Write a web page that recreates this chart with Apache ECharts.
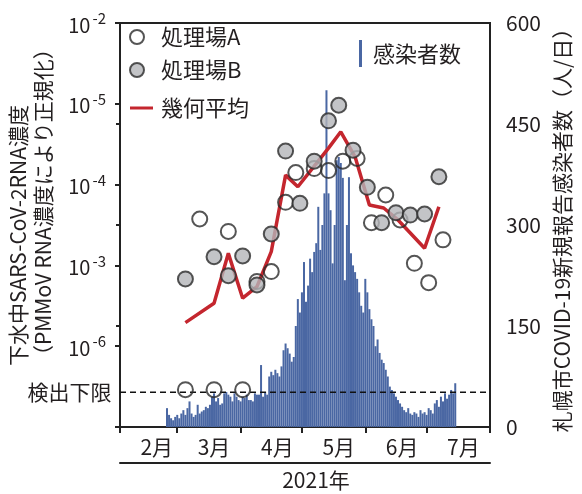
<!DOCTYPE html>
<html>
<head>
<meta charset="utf-8">
<script src="https://cdn.jsdelivr.net/npm/echarts@6/dist/echarts.min.js"></script>
<style>
  html, body { margin: 0; padding: 0; background: #fff; }
  #chart { width: 582px; height: 494px; }
</style>
</head>
<body>
<div id="chart"></div>
<script>
const FONT = '"Noto Sans CJK JP", "Noto Sans", sans-serif';
const INK = '#231f20';

// Daily new COVID-19 cases in Sapporo, one value per day from CASES_START
const CASES_START = '2021-02-24';
const cases = [
  28, 18, 13, 10, 15,
  18, 13, 20, 25, 18, 28, 38, 20, 15, 18, 33, 20, 23, 25, 30, 28, 33, 45, 50, 38, 43, 33, 35, 50, 52, 48, 45, 38, 50, 45, 40,
  38, 45, 43, 48, 40, 40, 38, 50, 48, 48, 92, 45, 52, 48, 75, 82, 77, 85, 80, 75, 90, 114, 124, 117, 109, 97, 104, 150, 190, 170,
  200, 245, 186, 210, 250, 230, 260, 273, 327, 263, 300, 347, 500, 347, 322, 243, 300, 396, 401, 392, 370, 218, 300, 371, 258, 240, 230, 220, 200, 180, 170,
  220, 200, 175, 160, 150, 120, 130, 110, 100, 95, 85, 75, 60, 55, 50, 45, 40, 35, 30, 25, 22, 28, 20, 18, 22, 20, 15, 25, 20, 22,
  18, 28, 25, 20, 35, 40, 30, 45, 38, 50, 42, 48, 55, 50, 65
];

// Wastewater SARS-CoV-2 RNA (normalised by PMMoV RNA)
const plantADates = ['2021-03-05', '2021-03-12', '2021-03-19', '2021-03-26', '2021-04-02', '2021-04-09', '2021-04-16',
  '2021-04-23', '2021-04-28', '2021-05-07', '2021-05-14', '2021-05-21', '2021-05-28', '2021-06-04', '2021-06-11',
  '2021-06-18', '2021-06-25', '2021-07-02', '2021-07-09'];
const plantAValues = [2.9e-7, 3.75e-5, 2.9e-7, 2.63e-5, 2.9e-7, 6.34e-6, 8.38e-6,
  6.03e-5, 1.41e-4, 1.58e-4, 1.49e-4, 1.95e-4, 2.11e-4, 3.38e-5, 7.43e-5,
  3.65e-5, 1.06e-5, 6.12e-6, 2.07e-5];

const plantBDates = ['2021-03-05', '2021-03-19', '2021-03-26', '2021-04-02', '2021-04-09', '2021-04-16', '2021-04-23',
  '2021-04-30', '2021-05-07', '2021-05-14', '2021-05-19', '2021-05-26', '2021-06-02', '2021-06-09', '2021-06-16',
  '2021-06-23', '2021-06-30', '2021-07-07'];
const plantBValues = [6.8e-6, 1.28e-5, 7.47e-6, 1.31e-5, 5.73e-6, 2.45e-5, 2.6e-4,
  5.86e-5, 1.95e-4, 6.15e-4, 9.6e-4, 2.67e-4, 9.25e-5, 3.38e-5, 4.49e-5,
  4.2e-5, 4.33e-5, 1.25e-4];

const geoMeanDates = ['2021-03-05', '2021-03-19', '2021-03-26', '2021-04-02', '2021-04-09', '2021-04-16', '2021-04-23',
  '2021-04-29', '2021-05-07', '2021-05-14', '2021-05-20', '2021-05-27', '2021-06-03', '2021-06-10', '2021-06-17',
  '2021-06-23', '2021-06-30', '2021-07-07'];
const geoMeanValues = [1.96e-6, 3.4e-6, 1.41e-5, 3.93e-6, 5.47e-6, 1.48e-5, 1.31e-4,
  9.4e-5, 1.69e-4, 2.83e-4, 4.5e-4, 2.21e-4, 5.59e-5, 5.13e-5, 3.65e-5,
  2.52e-5, 1.63e-5, 5.32e-5];

// Detection limit of the assay
const detectionLimit = 2.7e-7;
const detectionLimitLabel = '検出下限';

// Left axis tick labels, top to bottom (exponents printed as superscripts)
const leftTickExponents = ['-2', '-5', '-4', '-3', '-6'];
const monthLabels = ['2月', '3月', '4月', '5月', '6月', '7月'];
const yearLabel = '2021年';
const leftTitle = '下水中SARS-CoV-2RNA濃度\n（PMMoV RNA濃度により正規化）';
const rightTitle = '札幌市COVID-19新規報告感染者数（人/日）';

// The x axis counts days from the first of February 2021
const LABEL_OFFSET_DAYS = 18;

function dayIndex(dateStr) {
  const [y, m, d] = dateStr.split('-').map(Number);
  return Math.round((Date.UTC(y, m - 1, d) - Date.UTC(2021, 1, 1)) / 86400000);
}

const monthStarts = [];
for (let m = 1; m <= 7; m++) {
  monthStarts.push(Math.round((Date.UTC(2021, m, 1) - Date.UTC(2021, 1, 1)) / 86400000));
}
const monthLabelPos = monthStarts.slice(0, 6).map(d => d + LABEL_OFFSET_DAYS);

const caseStart = dayIndex(CASES_START);
const caseData = cases.map((v, i) => [caseStart + i, v]);
const zip = (ds, vs) => ds.map((d, i) => [dayIndex(d), vs[i]]);

const xMin = monthStarts[0];
const xMax = monthStarts[6];

const chart = echarts.init(document.getElementById('chart'), null, { renderer: 'canvas' });

chart.setOption({
  backgroundColor: '#fff',
  animation: false,
  textStyle: { fontFamily: FONT, color: INK },
  grid: {
    left: 120, right: 92, top: 23, bottom: 67,
    outerBoundsMode: 'none', containLabel: false,
    show: true, borderColor: '#222', borderWidth: 2, backgroundColor: 'transparent'
  },
  graphic: [
    {
      // two-line title of the concentration axis, reading bottom to top
      type: 'text', x: 31, y: 366, rotation: Math.PI / 2,
      style: {
        text: leftTitle, fill: INK, font: '21px ' + FONT,
        align: 'left', verticalAlign: 'middle', lineHeight: 25
      }
    }
  ],
  legend: [
    {
      data: ['処理場A', '処理場B'],
      orient: 'vertical', left: 129, top: 26, padding: 0,
      itemWidth: 14, itemHeight: 14, itemGap: 11,
      textStyle: { fontFamily: FONT, fontSize: 22, color: INK, padding: [0, 0, 0, 12] }
    },
    {
      data: [{ name: '幾何平均', icon: 'path://M0,0 L23,0 L23,3 L0,3 Z' }],
      left: 130, top: 97, padding: 0,
      itemWidth: 23, itemHeight: 14,
      textStyle: { fontFamily: FONT, fontSize: 22, color: INK, padding: [0, 0, 0, 3] }
    },
    {
      data: [{ name: '感染者数', icon: 'rect' }],
      left: 359, top: 40, padding: 0,
      itemWidth: 3, itemHeight: 27,
      textStyle: { fontFamily: FONT, fontSize: 22, color: INK, padding: [0, 0, 0, 6] }
    }
  ],
  xAxis: [
    {
      type: 'value', min: xMin, max: xMax,
      axisLine: { lineStyle: { color: '#222', width: 2 } },
      axisTick: { show: true, customValues: monthStarts, length: 6, lineStyle: { color: '#222', width: 2 } },
      axisLabel: {
        customValues: monthLabelPos,
        formatter: v => monthLabels[monthLabelPos.indexOf(v)] || '',
        align: 'center',
        fontFamily: FONT, fontSize: 21, color: INK, margin: 10
      },
      splitLine: { show: false }
    },
    {
      type: 'value', min: 0, max: 1,
      position: 'bottom', offset: 36,
      axisLine: { show: true, onZero: false, lineStyle: { color: '#222', width: 2 } },
      axisTick: { show: false }, axisLabel: { show: false }, splitLine: { show: false },
      name: yearLabel, nameLocation: 'middle', nameGap: 7,
      nameTextStyle: { fontFamily: FONT, fontSize: 21, color: INK, padding: [0, 0, 0, 22] }
    }
  ],
  yAxis: [
    {
      type: 'log', logBase: 10, min: 1e-7, max: 1e-2,
      position: 'left',
      axisLine: { show: true, lineStyle: { color: '#222', width: 2 } },
      axisTick: { show: true, length: 5, lineStyle: { color: '#222', width: 2 } },
      splitLine: { show: false },
      axisLabel: {
        margin: 14,
        formatter: v => {
          const idx = -2 - Math.round(Math.log10(v));
          const e = leftTickExponents[idx];
          return e === undefined ? '' : '{b|10}{s|' + e + '}';
        },
        rich: {
          b: { fontFamily: FONT, fontSize: 20, color: INK, lineHeight: 24, verticalAlign: 'bottom' },
          s: { fontFamily: FONT, fontSize: 15, color: INK, lineHeight: 15, verticalAlign: 'top', padding: [0, 0, 0, 2] }
        }
      }
    },
    {
      type: 'value', min: 0, max: 600, interval: 150,
      position: 'right',
      axisLine: { show: true, lineStyle: { color: '#222', width: 2 } },
      axisTick: { show: true, inside: true, length: 4, lineStyle: { color: '#222', width: 2 } },
      splitLine: { show: false },
      axisLabel: { fontFamily: FONT, fontSize: 21, color: INK, margin: 16 },
      name: rightTitle,
      nameLocation: 'middle', nameRotate: 90, nameGap: 60,
      nameTextStyle: { fontFamily: FONT, fontSize: 21, color: INK }
    }
  ],
  series: [
    {
      name: '感染者数', type: 'bar', xAxisIndex: 0, yAxisIndex: 1,
      data: caseData, barWidth: 2, z: 1,
      itemStyle: { color: '#4a67a3' }
    },
    {
      // dashed detection-limit line across the whole date range
      name: detectionLimitLabel, type: 'line', xAxisIndex: 0, yAxisIndex: 0,
      data: [
        { value: [xMin, detectionLimit],
          label: { show: true, position: 'left', distance: 8, formatter: detectionLimitLabel,
                   fontFamily: FONT, fontSize: 21, color: INK } },
        { value: [xMax, detectionLimit] }
      ],
      symbol: 'circle', symbolSize: 1, showSymbol: true, z: 2,
      itemStyle: { color: 'rgba(0,0,0,0)' },
      lineStyle: { color: '#111', width: 1.5, type: [6, 4] },
      silent: true
    },
    {
      name: '幾何平均', type: 'line', xAxisIndex: 0, yAxisIndex: 0,
      data: zip(geoMeanDates, geoMeanValues),
      symbol: 'none', z: 3,
      lineStyle: { color: '#c4262e', width: 3.5 },
      itemStyle: { color: '#c4262e' }
    },
    {
      name: '処理場A', type: 'scatter', xAxisIndex: 0, yAxisIndex: 0,
      data: zip(plantADates, plantAValues),
      symbol: 'circle', symbolSize: 15, z: 4,
      itemStyle: { color: 'rgba(255,255,255,0)', borderColor: '#2a2a2a', borderWidth: 2 }
    },
    {
      name: '処理場B', type: 'scatter', xAxisIndex: 0, yAxisIndex: 0,
      data: zip(plantBDates, plantBValues),
      symbol: 'circle', symbolSize: 15, z: 4,
      itemStyle: { color: '#b4b5b9', borderColor: '#2a2a2a', borderWidth: 2 }
    }
  ]
});
</script>
</body>
</html>
